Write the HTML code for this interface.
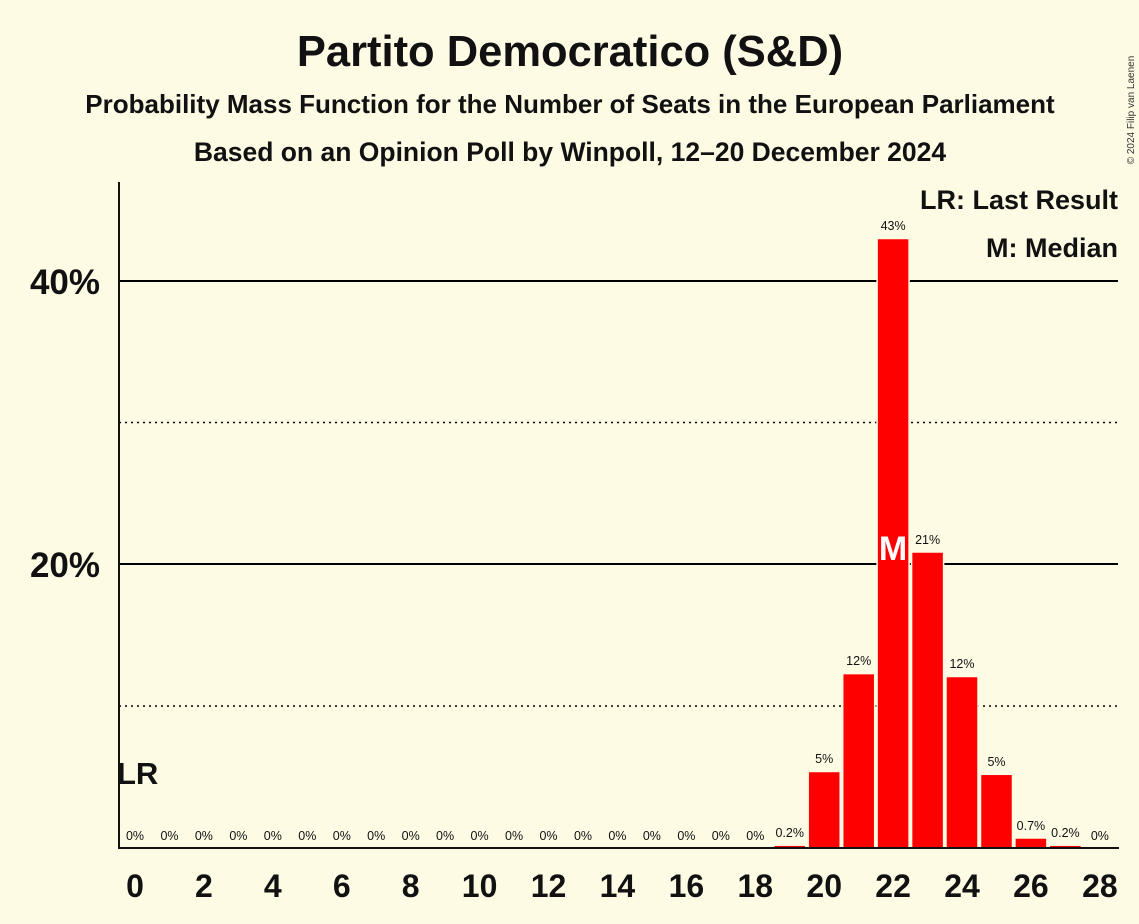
<!DOCTYPE html>
<html><head><meta charset="utf-8"><style>
html,body{margin:0;padding:0;background:#fdfbe4;}
svg{display:block;font-family:"Liberation Sans",sans-serif;}
</style></head><body>
<svg width="1139" height="924" viewBox="0 0 1139 924" xmlns="http://www.w3.org/2000/svg">
<rect width="1139" height="924" fill="#fdfbe4"/>
<text x="570" y="66" text-anchor="middle" font-size="43.5" font-weight="bold" fill="#111">Partito Democratico (S&amp;D)</text>
<text x="570" y="113" text-anchor="middle" font-size="26" font-weight="bold" fill="#111">Probability Mass Function for the Number of Seats in the European Parliament</text>
<text x="570" y="161" text-anchor="middle" font-size="26.5" font-weight="bold" fill="#111">Based on an Opinion Poll by Winpoll, 12–20 December 2024</text>
<text x="1134" y="110" font-size="10" fill="#333" transform="rotate(-90 1134 110)" text-anchor="middle">© 2024 Filip van Laenen</text>
<!-- grid -->
<line x1="119" y1="281" x2="1118" y2="281" stroke="#000" stroke-width="2"/>
<line x1="119" y1="564" x2="1118" y2="564" stroke="#000" stroke-width="2"/>
<line x1="119" y1="422.5" x2="1118" y2="422.5" stroke="#000" stroke-width="1.5" stroke-dasharray="2,4"/>
<line x1="119" y1="706" x2="1118" y2="706" stroke="#000" stroke-width="1.5" stroke-dasharray="2,4"/>
<text x="100" y="294" text-anchor="end" font-size="35" font-weight="bold" fill="#111">40%</text>
<text x="100" y="577" text-anchor="end" font-size="35" font-weight="bold" fill="#111">20%</text>
<!-- bars -->
<g fill="#ff0000" stroke="#fdfbe4" stroke-width="1.5">
<rect x="773.7" y="845.2" width="32" height="2.8"/>
<rect x="808.2" y="771.5" width="32" height="76.5"/>
<rect x="842.7" y="673.6" width="32" height="174.4"/>
<rect x="877.1" y="238.5" width="32" height="609.5"/>
<rect x="911.6" y="552" width="32" height="296"/>
<rect x="946" y="676.5" width="32" height="171.5"/>
<rect x="980.5" y="774.3" width="32" height="73.7"/>
<rect x="1014.9" y="838" width="32" height="10"/>
<rect x="1049.4" y="845.2" width="32" height="2.8"/>
</g>
<text x="893.1" y="560" text-anchor="middle" font-size="34" font-weight="bold" fill="#fff">M</text>
<!-- axes -->
<line x1="119" y1="182" x2="119" y2="849" stroke="#111" stroke-width="2"/>
<line x1="118" y1="848" x2="1119" y2="848" stroke="#111" stroke-width="2"/>
<text x="117" y="784" font-size="31" font-weight="bold" fill="#111">LR</text>
<!-- value labels -->
<g font-size="12.5" text-anchor="middle" fill="#111">
<text x="135" y="840">0%</text><text x="169.5" y="840">0%</text><text x="203.9" y="840">0%</text><text x="238.4" y="840">0%</text><text x="272.8" y="840">0%</text><text x="307.3" y="840">0%</text><text x="341.8" y="840">0%</text><text x="376.2" y="840">0%</text><text x="410.7" y="840">0%</text><text x="445.1" y="840">0%</text><text x="479.6" y="840">0%</text><text x="514.1" y="840">0%</text><text x="548.5" y="840">0%</text><text x="583" y="840">0%</text><text x="617.4" y="840">0%</text><text x="651.9" y="840">0%</text><text x="686.4" y="840">0%</text><text x="720.8" y="840">0%</text><text x="755.3" y="840">0%</text>
<text x="789.7" y="837">0.2%</text>
<text x="824.2" y="763">5%</text>
<text x="858.7" y="665">12%</text>
<text x="893.1" y="230">43%</text>
<text x="927.6" y="544">21%</text>
<text x="962" y="668">12%</text>
<text x="996.5" y="766">5%</text>
<text x="1030.9" y="830">0.7%</text>
<text x="1065.4" y="837">0.2%</text>
<text x="1099.9" y="840">0%</text>
</g>
<!-- x ticks -->
<g font-size="32" font-weight="bold" text-anchor="middle" fill="#111">
<text x="135" y="897">0</text><text x="203.9" y="897">2</text><text x="272.8" y="897">4</text><text x="341.8" y="897">6</text><text x="410.7" y="897">8</text><text x="479.6" y="897">10</text><text x="548.5" y="897">12</text><text x="617.4" y="897">14</text><text x="686.4" y="897">16</text><text x="755.3" y="897">18</text><text x="824.2" y="897">20</text><text x="893.1" y="897">22</text><text x="962" y="897">24</text><text x="1030.9" y="897">26</text><text x="1099.9" y="897">28</text>
</g>
<g font-size="27" font-weight="bold" text-anchor="end" fill="#111">
<text x="1118" y="209">LR: Last Result</text>
<text x="1118" y="257">M: Median</text>
</g>
</svg>
</body></html>
